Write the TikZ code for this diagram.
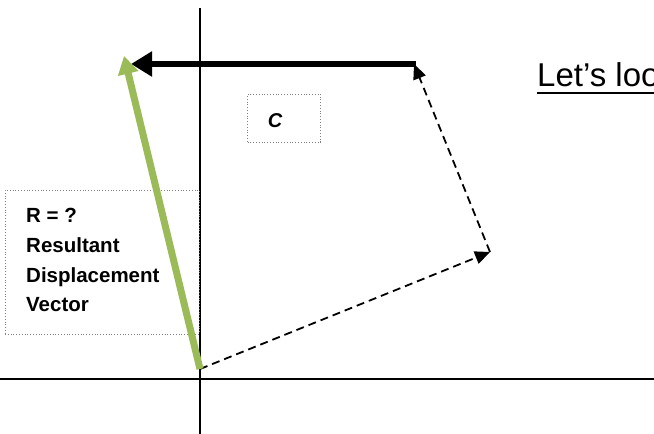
\documentclass[tikz,border=0pt]{standalone}
\usepackage{fontspec}
\setmainfont{Liberation Sans}
\usetikzlibrary{arrows.meta}
\definecolor{resgreen}{RGB}{155,187,89}
\tikzset{
  dashvec/.style={line width=1.8pt,dash pattern=on 8pt off 5pt,-{Triangle[length=15pt,width=13pt]}},
  labelbox/.style={draw=gray,dotted,line width=0.8pt}
}
\begin{document}
\begin{tikzpicture}[x=1pt,y=-1pt]
\useasboundingbox (0,0) rectangle (654,434);
\clip (0,0) rectangle (654,434);

% Draw axes
\draw[line width=1.2pt] (0,379) -- (654,379);
\draw[line width=1.6pt] (200,8) -- (200,434);

% Points of the vectors
\coordinate (O) at (200,369);
\coordinate (P) at (490,252);
\coordinate (Q) at (414,64);
\coordinate (S) at (416,64);
\coordinate (T) at (131,64);
\coordinate (E) at (124,56);

% Label boxes
\node[labelbox,minimum width=194pt,minimum height=144pt,inner sep=0pt] (rbox) at (102,262) {};
\node[anchor=north west,align=left,font=\bfseries\fontsize{20.5}{29.8}\selectfont,inner sep=0pt] (rtext) at (26,208)
  {R = ?\\Resultant\\Displacement\\Vector};
\node[labelbox,minimum width=73pt,minimum height=48pt,inner sep=0pt] (cbox) at (284,118) {};
\node[font=\bfseries\itshape\fontsize{20}{22}\selectfont] (ctext) at (275,121) {C};

% Draw the vectors
\draw[dashvec] (O) -- (P);
\draw[dashvec] (P) -- (Q);
\draw[line width=6.5pt,-{Triangle[length=21pt,width=24pt]}] (S) -- (T);
\draw[resgreen,line width=7pt,-{Triangle[length=18pt,width=20pt]}] (O) -- (E);

% Heading, cut at the edge
\node[anchor=base west,inner sep=0pt,font=\fontsize{33}{38}\selectfont] (look) at (537,86) {Let’s loo};
\draw[line width=2.8pt] (537,93) -- (654,93);
\end{tikzpicture}
\end{document}
